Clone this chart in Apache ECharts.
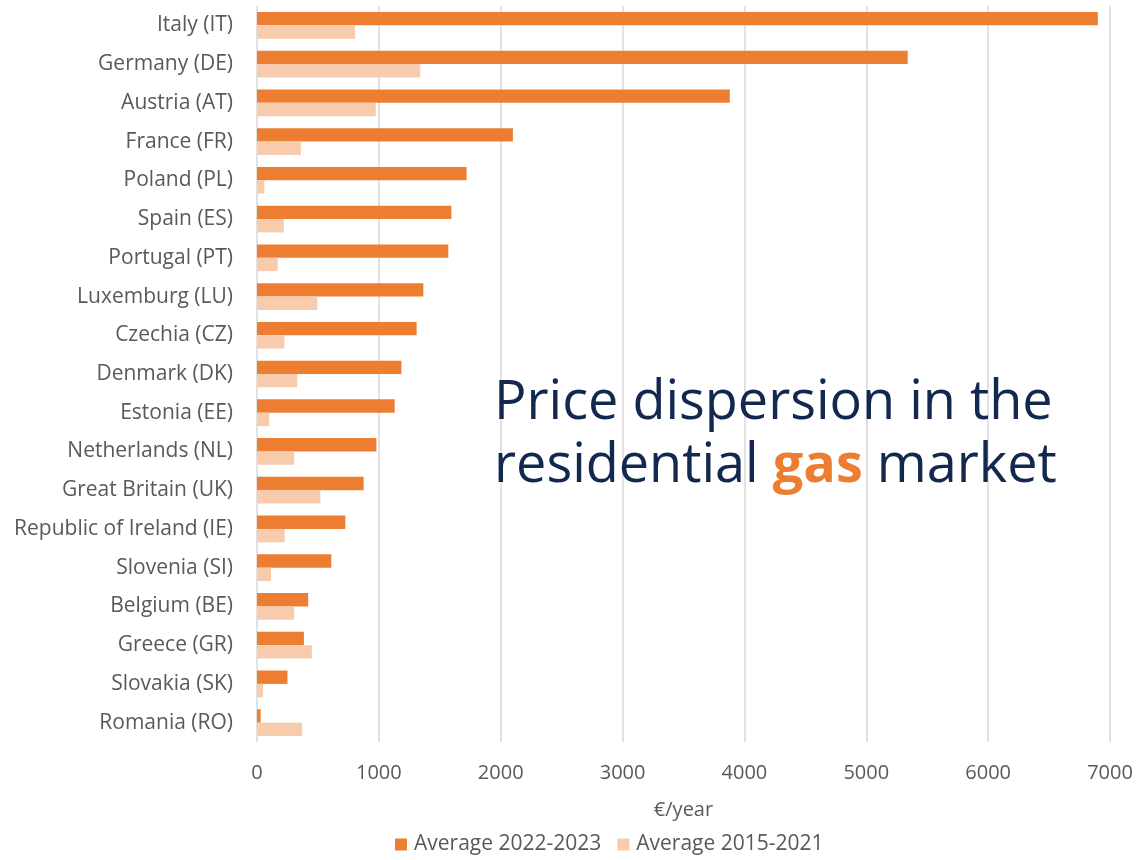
<!DOCTYPE html>
<html>
<head>
<meta charset="utf-8">
<script src="https://cdn.jsdelivr.net/npm/echarts@6/dist/echarts.min.js"></script>
<style>
  html, body { margin: 0; padding: 0; background: #fff; }
  #gasChart { width: 1140px; height: 860px; }
</style>
</head>
<body>
<div id="gasChart"></div>
<script>
// countries, top to bottom
var countries = [
  'Italy (IT)', 'Germany (DE)', 'Austria (AT)', 'France (FR)', 'Poland (PL)',
  'Spain (ES)', 'Portugal (PT)', 'Luxemburg (LU)', 'Czechia (CZ)', 'Denmark (DK)',
  'Estonia (EE)', 'Netherlands (NL)', 'Great Britain (UK)', 'Republic of Ireland (IE)',
  'Slovenia (SI)', 'Belgium (BE)', 'Greece (GR)', 'Slovakia (SK)', 'Romania (RO)'
];
// €/year
var avg2022 = [6900, 5340, 3880, 2100, 1720, 1595, 1570, 1365, 1310, 1185, 1130, 980, 875, 725, 610, 420, 385, 250, 30];
var avg2015 = [805, 1340, 975, 360, 60, 220, 170, 495, 225, 330, 100, 305, 520, 227, 115, 305, 450, 50, 370];
var xTicks = [0, 1000, 2000, 3000, 4000, 5000, 6000, 7000];

var labelFont = '"Open Sans", sans-serif';
var titleFont = '"Open Sans", sans-serif';
var myChart = echarts.init(document.getElementById('gasChart'), null, { renderer: 'canvas' });
var option = {
  animation: false,
  backgroundColor: '#fff',
  title: {
    text: 'Price dispersion in the\nresidential {g|gas} market',
    left: 489,
    top: 367,
    textStyle: {
      color: '#13284f',
      fontFamily: titleFont,
      fontSize: 54,
      fontWeight: 'normal',
      lineHeight: 63,
      rich: {
        g: {
          color: '#ed7d31',
          fontWeight: 'bold',
          fontSize: 54,
          fontFamily: titleFont,
          lineHeight: 63
        }
      }
    }
  },
  legend: {
    data: ['Average 2022-2023', 'Average 2015-2021'],
    left: 390,
    bottom: 0,
    itemWidth: 12,
    itemHeight: 12,
    itemGap: 16,
    icon: 'rect',
    textStyle: { color: '#595959', fontSize: 21, fontFamily: labelFont, padding: [0, 0, 0, 2] }
  },
  grid: {
    left: 257,
    right: 30,
    top: 6,
    bottom: 118,
    containLabel: false
  },
  xAxis: {
    type: 'value',
    min: xTicks[0],
    max: xTicks[xTicks.length - 1],
    interval: 1000,
    name: '€/year',
    nameLocation: 'middle',
    nameGap: 58,
    nameTextStyle: { color: '#595959', fontSize: 20, fontFamily: labelFont },
    axisLine: { show: false },
    axisTick: { show: false },
    axisLabel: {
      color: '#595959', fontSize: 20, fontFamily: labelFont, margin: 21,
      formatter: function (v) { return String(v); }
    },
    splitLine: { show: true, lineStyle: { color: '#d9d9d9', width: 1.5 } }
  },
  yAxis: {
    type: 'category',
    inverse: true,
    data: countries,
    axisLine: { show: false },
    axisTick: { show: false },
    axisLabel: { color: '#595959', fontSize: 21, fontFamily: labelFont, margin: 24 }
  },
  series: [
    {
      name: 'Average 2022-2023',
      type: 'bar',
      data: avg2022,
      barGap: '0%',
      barCategoryGap: '31%',
      itemStyle: { color: '#ed7d31' }
    },
    {
      name: 'Average 2015-2021',
      type: 'bar',
      data: avg2015,
      itemStyle: { color: '#f8cbad' }
    }
  ]
};
myChart.setOption(option);
</script>
</body>
</html>
